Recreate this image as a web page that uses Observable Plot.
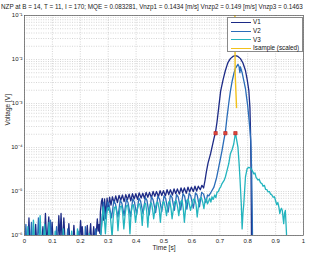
<!DOCTYPE html>
<html>
<head>
<meta charset="utf-8">
<script src="https://cdn.jsdelivr.net/npm/d3@7"></script>
<script src="https://cdn.jsdelivr.net/npm/@observablehq/plot@0.6"></script>
<style>
  body { margin: 0; background: #fff; }
  #wrap { position: relative; width: 309px; height: 255px; overflow: hidden; font-family: "Liberation Sans", Arial, sans-serif; }
  #legend { position: absolute; left: 227px; top: 17px; width: 76px; height: 35px; background: #fff; border: 0.7px solid #8a8a8a; box-sizing: border-box; }
  .item { position: absolute; left: 0; height: 8px; font-size: 6.3px; line-height: 8px; color: #111; white-space: nowrap; }
  .item span.sw { position: absolute; left: 3px; top: 3.6px; width: 20px; height: 0; border-top: 1.2px solid; }
  .item span.lb { position: absolute; left: 25px; top: 0; }
</style>
</head>
<body>
<div id="wrap"></div>
<script>
// ---- text ----
const titleText = "NZP at B = 14, T = 11, I = 170; MQE = 0.083281, Vnzp1 = 0.1434 [m/s] Vnzp2 = 0.149 [m/s] Vnzp3 = 0.1463";
const xLabel = "Time [s]";
const yLabel = "Voltage [V]";
const xTicks = [0, 0.1, 0.2, 0.3, 0.4, 0.5, 0.6, 0.7, 0.8, 0.9, 1];
const xTickLabels = ["0", "0.1", "0.2", "0.3", "0.4", "0.5", "0.6", "0.7", "0.8", "0.9", "1"];
const yTicks = [1e-6, 1e-5, 1e-4, 1e-3, 1e-2, 1e-1];
const yTickLabels = ["10\u207B\u2076", "10\u207B\u2075", "10\u207B\u2074", "10\u207B\u00B3", "10\u207B\u00B2", "10\u207B\u00B9"];
const seriesNames = ["V1", "V2", "V3", "Isample (scaled)"];
const seriesColors = ["#1c2a86", "#2a6cb8", "#22b4be", "#f2c21a"];

// ---- series: [time s, log10(voltage V)] ----
const v1 = [[0,-6.3],[0.012,-6.3],[0.016,-5.6],[0.02,-6.3],[0.035,-6.3],[0.04,-5.75],[0.045,-6.3],[0.06,-6.3],[0.066,-5.8],[0.07,-6.3],[0.075,-5.5],[0.08,-6.2],[0.087,-5.58],[0.092,-6.3],[0.099,-5.7],[0.104,-6.3],[0.118,-6.3],[0.123,-5.55],[0.127,-6.1],[0.131,-5.5],[0.136,-6.3],[0.141,-5.6],[0.147,-6.3],[0.155,-6.2],[0.159,-5.73],[0.164,-6.3],[0.172,-6.3],[0.177,-5.77],[0.183,-6.3],[0.195,-6.3],[0.201,-5.66],[0.204,-6.0],[0.207,-5.8],[0.213,-6.3],[0.22,-6.2],[0.225,-5.77],[0.23,-6.3],[0.237,-5.73],[0.242,-6.3],[0.248,-5.8],[0.254,-6.2],[0.261,-5.62],[0.264,-5.9],[0.267,-5.75],[0.27,-5.95],[0.272,-5.47],[0.276,-5.22],[0.279,-5.16],[0.283,-5.65],[0.287,-5.17],[0.292,-5.55],[0.296,-5.15],[0.300,-5.42],[0.305,-5.13],[0.310,-5.31],[0.315,-5.12],[0.321,-5.26],[0.327,-5.10],[0.333,-5.25],[0.339,-5.09],[0.345,-5.20],[0.351,-5.08],[0.357,-5.23],[0.363,-5.07],[0.369,-5.19],[0.375,-5.06],[0.381,-5.21],[0.387,-5.05],[0.393,-5.17],[0.399,-5.05],[0.405,-5.18],[0.411,-5.03],[0.418,-5.15],[0.424,-5.04],[0.430,-5.16],[0.436,-5.02],[0.442,-5.13],[0.448,-5.02],[0.455,-5.14],[0.461,-5.00],[0.467,-5.11],[0.473,-5.00],[0.480,-5.12],[0.486,-4.98],[0.492,-5.09],[0.498,-4.98],[0.505,-5.10],[0.511,-4.96],[0.517,-5.07],[0.523,-4.96],[0.530,-5.08],[0.536,-4.94],[0.542,-5.05],[0.548,-4.94],[0.555,-5.06],[0.561,-4.92],[0.567,-5.03],[0.573,-4.92],[0.580,-5.04],[0.586,-4.90],[0.592,-5.01],[0.598,-4.90],[0.605,-5.00],[0.611,-4.88],[0.617,-4.99],[0.623,-4.88],[0.630,-4.96],[0.636,-4.86],[0.642,-4.92],[0.647,-4.75],[0.652,-4.55],[0.658,-4.35],[0.667,-4.14],[0.679,-3.80],[0.685,-3.64],[0.690,-3.42],[0.696,-3.10],[0.703,-2.72],[0.712,-2.45],[0.720,-2.25],[0.729,-2.07],[0.738,-1.98],[0.747,-1.93],[0.756,-1.91],[0.765,-1.93],[0.774,-1.98],[0.783,-2.08],[0.792,-2.25],[0.798,-2.45],[0.804,-2.70],[0.808,-3.10],[0.810,-3.61],[0.812,-4.5],[0.813,-5.5],[0.814,-6.5]];

const v2 = [[0,-6.3],[0.005,-5.75],[0.009,-6.3],[0.02,-6.3],[0.025,-5.7],[0.03,-6.3],[0.045,-6.3],[0.05,-5.6],[0.055,-6.3],[0.062,-6.3],[0.07,-5.85],[0.076,-6.3],[0.09,-6.3],[0.093,-5.65],[0.098,-6.3],[0.11,-6.3],[0.115,-5.8],[0.12,-6.3],[0.15,-6.3],[0.155,-5.85],[0.16,-6.3],[0.19,-6.3],[0.195,-5.9],[0.2,-6.3],[0.215,-6.3],[0.218,-5.8],[0.222,-6.3],[0.25,-6.3],[0.255,-5.85],[0.26,-6.3],[0.27,-6.3],[0.278,-5.6],[0.283,-5.25],[0.29,-5.62],[0.298,-5.24],[0.303,-5.30],[0.312,-5.60],[0.32,-5.22],[0.326,-5.28],[0.335,-5.58],[0.343,-5.20],[0.349,-5.27],[0.357,-5.55],[0.365,-5.18],[0.371,-5.25],[0.38,-5.57],[0.388,-5.17],[0.394,-5.24],[0.402,-5.52],[0.41,-5.15],[0.416,-5.22],[0.425,-5.50],[0.433,-5.14],[0.439,-5.20],[0.447,-5.53],[0.455,-5.12],[0.461,-5.19],[0.47,-5.48],[0.478,-5.11],[0.484,-5.17],[0.492,-5.46],[0.5,-5.10],[0.506,-5.16],[0.515,-5.47],[0.523,-5.08],[0.529,-5.14],[0.537,-5.43],[0.545,-5.07],[0.551,-5.13],[0.56,-5.42],[0.568,-5.05],[0.574,-5.11],[0.582,-5.40],[0.59,-5.04],[0.596,-5.10],[0.605,-5.38],[0.613,-5.03],[0.619,-5.08],[0.627,-5.35],[0.635,-5.02],[0.642,-5.06],[0.650,-5.25],[0.656,-5.08],[0.661,-5.10],[0.670,-5.00],[0.679,-4.90],[0.688,-4.70],[0.696,-4.45],[0.708,-4.07],[0.714,-3.85],[0.720,-3.65],[0.726,-3.30],[0.732,-3.00],[0.738,-2.72],[0.744,-2.50],[0.750,-2.33],[0.756,-2.20],[0.765,-2.11],[0.769,-2.16],[0.772,-2.30],[0.774,-2.17],[0.780,-2.30],[0.786,-2.48],[0.792,-2.66],[0.796,-2.86],[0.800,-3.05],[0.804,-3.31],[0.808,-3.60],[0.811,-3.84],[0.814,-4.5],[0.816,-5.3],[0.818,-6.5]];

const v3 = [[0,-6.3],[0.008,-6.3],[0.012,-5.8],[0.016,-6.3],[0.028,-6.3],[0.032,-5.65],[0.037,-6.3],[0.052,-6.3],[0.056,-5.55],[0.061,-6.3],[0.068,-6.3],[0.072,-5.75],[0.077,-6.3],[0.083,-6.3],[0.088,-5.7],[0.093,-6.3],[0.105,-6.3],[0.11,-5.9],[0.115,-6.3],[0.135,-6.3],[0.139,-5.85],[0.144,-6.3],[0.165,-6.3],[0.169,-5.9],[0.174,-6.3],[0.185,-6.3],[0.19,-5.85],[0.195,-6.3],[0.228,-6.3],[0.232,-5.95],[0.236,-6.3],[0.265,-6.3],[0.275,-5.9],[0.282,-5.35],[0.286,-5.6],[0.290,-5.96],[0.294,-5.55],[0.298,-5.38],[0.302,-5.36],[0.307,-5.5],[0.314,-6.04],[0.318,-5.6],[0.322,-5.37],[0.327,-5.34],[0.331,-5.5],[0.335,-5.89],[0.339,-5.55],[0.343,-5.35],[0.348,-5.33],[0.352,-5.5],[0.356,-5.85],[0.361,-5.5],[0.365,-5.33],[0.370,-5.31],[0.374,-5.5],[0.378,-5.96],[0.382,-5.5],[0.386,-5.32],[0.390,-5.30],[0.394,-5.45],[0.398,-5.70],[0.403,-5.45],[0.408,-5.30],[0.413,-5.28],[0.418,-5.45],[0.422,-5.77],[0.426,-5.45],[0.430,-5.29],[0.434,-5.27],[0.438,-5.45],[0.442,-5.81],[0.446,-5.45],[0.451,-5.28],[0.455,-5.26],[0.459,-5.40],[0.463,-5.62],[0.468,-5.40],[0.473,-5.26],[0.478,-5.25],[0.483,-5.40],[0.487,-5.70],[0.491,-5.40],[0.496,-5.25],[0.500,-5.23],[0.505,-5.38],[0.509,-5.55],[0.513,-5.35],[0.517,-5.24],[0.521,-5.22],[0.525,-5.38],[0.529,-5.62],[0.534,-5.38],[0.539,-5.23],[0.544,-5.21],[0.549,-5.36],[0.553,-5.55],[0.557,-5.35],[0.561,-5.22],[0.565,-5.20],[0.569,-5.38],[0.573,-5.70],[0.578,-5.35],[0.582,-5.20],[0.587,-5.18],[0.591,-5.30],[0.595,-5.43],[0.600,-5.30],[0.605,-5.18],[0.610,-5.17],[0.615,-5.30],[0.619,-5.58],[0.624,-5.30],[0.629,-5.16],[0.634,-5.14],[0.639,-5.25],[0.643,-5.39],[0.647,-5.22],[0.652,-5.16],[0.656,-5.28],[0.660,-5.22],[0.664,-5.15],[0.668,-5.24],[0.672,-5.12],[0.676,-5.18],[0.682,-5.08],[0.686,-5.14],[0.690,-5.02],[0.695,-5.00],[0.699,-4.93],[0.703,-4.90],[0.708,-4.82],[0.712,-4.78],[0.716,-4.74],[0.720,-4.67],[0.726,-4.52],[0.732,-4.37],[0.738,-4.14],[0.744,-4.05],[0.750,-3.92],[0.756,-3.67],[0.761,-3.85],[0.765,-3.99],[0.769,-4.35],[0.772,-4.67],[0.777,-5.28],[0.780,-5.85],[0.783,-5.50],[0.786,-5.28],[0.792,-4.67],[0.798,-4.48],[0.804,-4.45],[0.810,-4.47],[0.816,-4.52],[0.822,-4.60],[0.826,-4.58],[0.830,-4.68],[0.837,-4.74],[0.841,-4.72],[0.846,-4.80],[0.851,-4.82],[0.855,-4.88],[0.860,-4.86],[0.864,-4.95],[0.869,-4.96],[0.873,-5.01],[0.878,-5.00],[0.882,-5.06],[0.887,-5.08],[0.891,-5.13],[0.896,-5.12],[0.900,-5.21],[0.904,-5.30],[0.908,-5.25],[0.912,-5.36],[0.915,-5.50],[0.918,-5.42],[0.921,-5.38],[0.924,-5.43],[0.929,-5.73],[0.932,-5.50],[0.935,-5.43],[0.939,-5.95],[0.942,-6.5]];

const isample = [[0.754,-0.8],[0.755,-2.3],[0.760,-3.09]];

// threshold crossing markers [time s, log10(voltage V)]
const markers = [[0.685,-3.675],[0.720,-3.675],[0.756,-3.675]];

// ---- build tables ----
const toRows = (arr, name) => arr.map(([t, e]) => ({t, v: Math.pow(10, e), name}));
const rows1 = toRows(v1, seriesNames[0]);
const rows2 = toRows(v2, seriesNames[1]);
const rows3 = toRows(v3, seriesNames[2]);
const rowsI = toRows(isample, seriesNames[3]);
const rowsM = toRows(markers, "marker");

const minorY = [];
for (const d of yTicks.slice(0, -1)) for (let k = 2; k <= 9; k++) minorY.push(d * k);

const gridStyle = {stroke: "#9a9a9a", strokeOpacity: 0.7, strokeWidth: 0.6, strokeDasharray: "1,1.4"};

const chart = Plot.plot({
  width: 309,
  height: 255,
  marginLeft: 24,
  marginRight: 6,
  marginTop: 15,
  marginBottom: 20,
  style: {fontFamily: "'Liberation Sans', Arial, sans-serif", fontSize: "6px", color: "#222", background: "white"},
  x: {domain: [0, 1]},
  y: {type: "log", domain: [1e-6, 1e-1]},
  marks: [
    Plot.gridX(xTicks, gridStyle),
    Plot.gridY(minorY, gridStyle),
    Plot.gridY(yTicks, gridStyle),
    Plot.line(rows1, {x: "t", y: "v", stroke: seriesColors[0], strokeWidth: 1.3, clip: true}),
    Plot.line(rows2, {x: "t", y: "v", stroke: seriesColors[1], strokeWidth: 1.3, clip: true}),
    Plot.line(rows3, {x: "t", y: "v", stroke: seriesColors[2], strokeWidth: 1.3, clip: true}),
    Plot.line(rowsI, {x: "t", y: "v", stroke: seriesColors[3], strokeWidth: 1.4, clip: true}),
    Plot.dot(rowsM, {x: "t", y: "v", symbol: "square", r: 1.9, fill: "#e0483c", stroke: "#b02020", strokeWidth: 0.6}),
    Plot.frame({stroke: "#555", strokeWidth: 0.7}),
    Plot.axisX({ticks: xTicks, tickFormat: d => xTickLabels[xTicks.indexOf(d)], tickSize: 0, tickPadding: 3, label: null, fontSize: 6}),
    Plot.axisY({ticks: yTicks, tickFormat: d => yTickLabels[yTicks.indexOf(d)], tickSize: 0, tickPadding: 2, label: null, fontSize: 6}),
    Plot.text([xLabel], {frameAnchor: "bottom", dy: 14, fontSize: 6.5, fill: "#222"}),
    Plot.text([yLabel], {frameAnchor: "left", dx: -17, rotate: -90, fontSize: 6.5, fill: "#222"}),
    Plot.text([titleText], {frameAnchor: "top-left", dx: -23.5, dy: -11, textAnchor: "start", fontSize: 6.3, fill: "#222"})
  ]
});

const wrap = document.getElementById("wrap");
wrap.appendChild(chart);

// legend
const legend = document.createElement("div");
legend.id = "legend";
const tops = [0, 9, 17.5, 26];
seriesNames.forEach((name, i) => {
  const it = document.createElement("div");
  it.className = "item";
  it.style.top = tops[i] + "px";
  const sw = document.createElement("span");
  sw.className = "sw";
  sw.style.borderTopColor = seriesColors[i];
  const lb = document.createElement("span");
  lb.className = "lb";
  lb.textContent = name;
  it.appendChild(sw);
  it.appendChild(lb);
  legend.appendChild(it);
});
wrap.appendChild(legend);
</script>
</body>
</html>
